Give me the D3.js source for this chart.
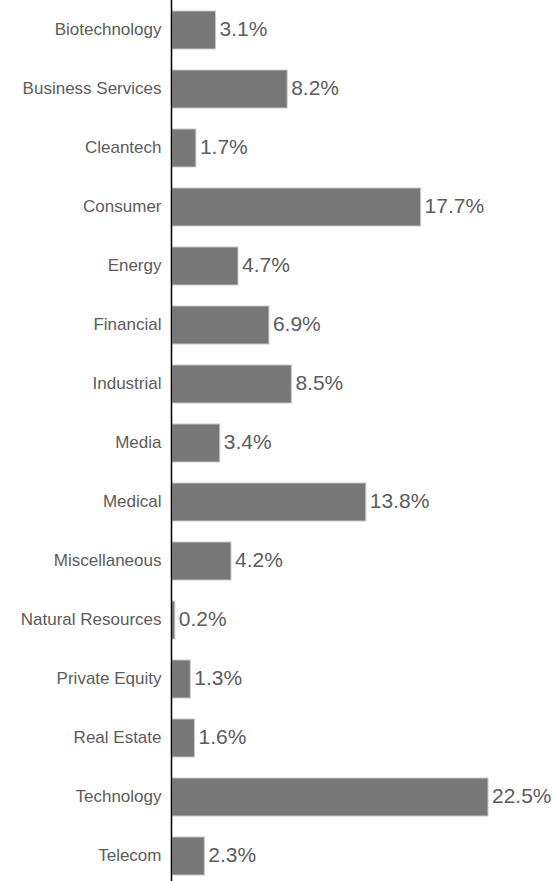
<!DOCTYPE html>
<html>
<head>
<meta charset="utf-8">
<script src="https://cdn.jsdelivr.net/npm/d3@7"></script>
<style>
  html, body { margin: 0; padding: 0; background: #fff; }
  svg { display: block; }
</style>
</head>
<body>
<svg id="chart" width="555" height="881"></svg>
<script>
const categories = ["Biotechnology", "Business Services", "Cleantech", "Consumer", "Energy",
  "Financial", "Industrial", "Media", "Medical", "Miscellaneous", "Natural Resources",
  "Private Equity", "Real Estate", "Technology", "Telecom"];
const values = [3.1, 8.2, 1.7, 17.7, 4.7, 6.9, 8.5, 3.4, 13.8, 4.2, 0.2, 1.3, 1.6, 22.5, 2.3];

const W = 555, H = 881;
const axisX = 171.5;
const svg = d3.select("#chart");

const y = d3.scaleBand()
  .domain(categories)
  .range([0.5, 885.5])
  .paddingInner(0.356)
  .paddingOuter(0.178);

const x = d3.scaleLinear()
  .domain([0, 22.5])
  .range([axisX + 0.5, 488]);

const data = categories.map((c, i) => ({ c, v: values[i] }));

svg.selectAll("rect.bar")
  .data(data)
  .enter().append("rect")
  .attr("class", "bar")
  .attr("x", x(0))
  .attr("y", d => y(d.c))
  .attr("width", d => x(d.v) - x(0))
  .attr("height", y.bandwidth())
  .attr("fill", "#777")
  .attr("stroke", "#c8c8c8")
  .attr("stroke-width", 1);

svg.selectAll("text.val")
  .data(data)
  .enter().append("text")
  .attr("class", "val")
  .attr("x", d => x(d.v) + 4)
  .attr("y", d => y(d.c) + y.bandwidth() / 2)
  .attr("dy", "0.3em")
  .attr("font-family", "Liberation Sans, Arial, sans-serif")
  .attr("font-size", 21)
  .attr("fill", "#5c5c5c")
  .text(d => d.v.toFixed(1) + "%");

const yAxis = d3.axisLeft(y).tickSize(0).tickPadding(10);
const g = svg.append("g")
  .attr("transform", `translate(${axisX},0)`)
  .call(yAxis);
g.select(".domain").remove();
g.selectAll("text")
  .attr("font-family", "Liberation Sans, Arial, sans-serif")
  .attr("font-size", 17)
  .attr("fill", "#5c5c5c");

svg.append("line")
  .attr("x1", axisX).attr("x2", axisX)
  .attr("y1", 0).attr("y2", H)
  .attr("stroke", "#000")
  .attr("stroke-width", 1.5);
</script>
</body>
</html>
